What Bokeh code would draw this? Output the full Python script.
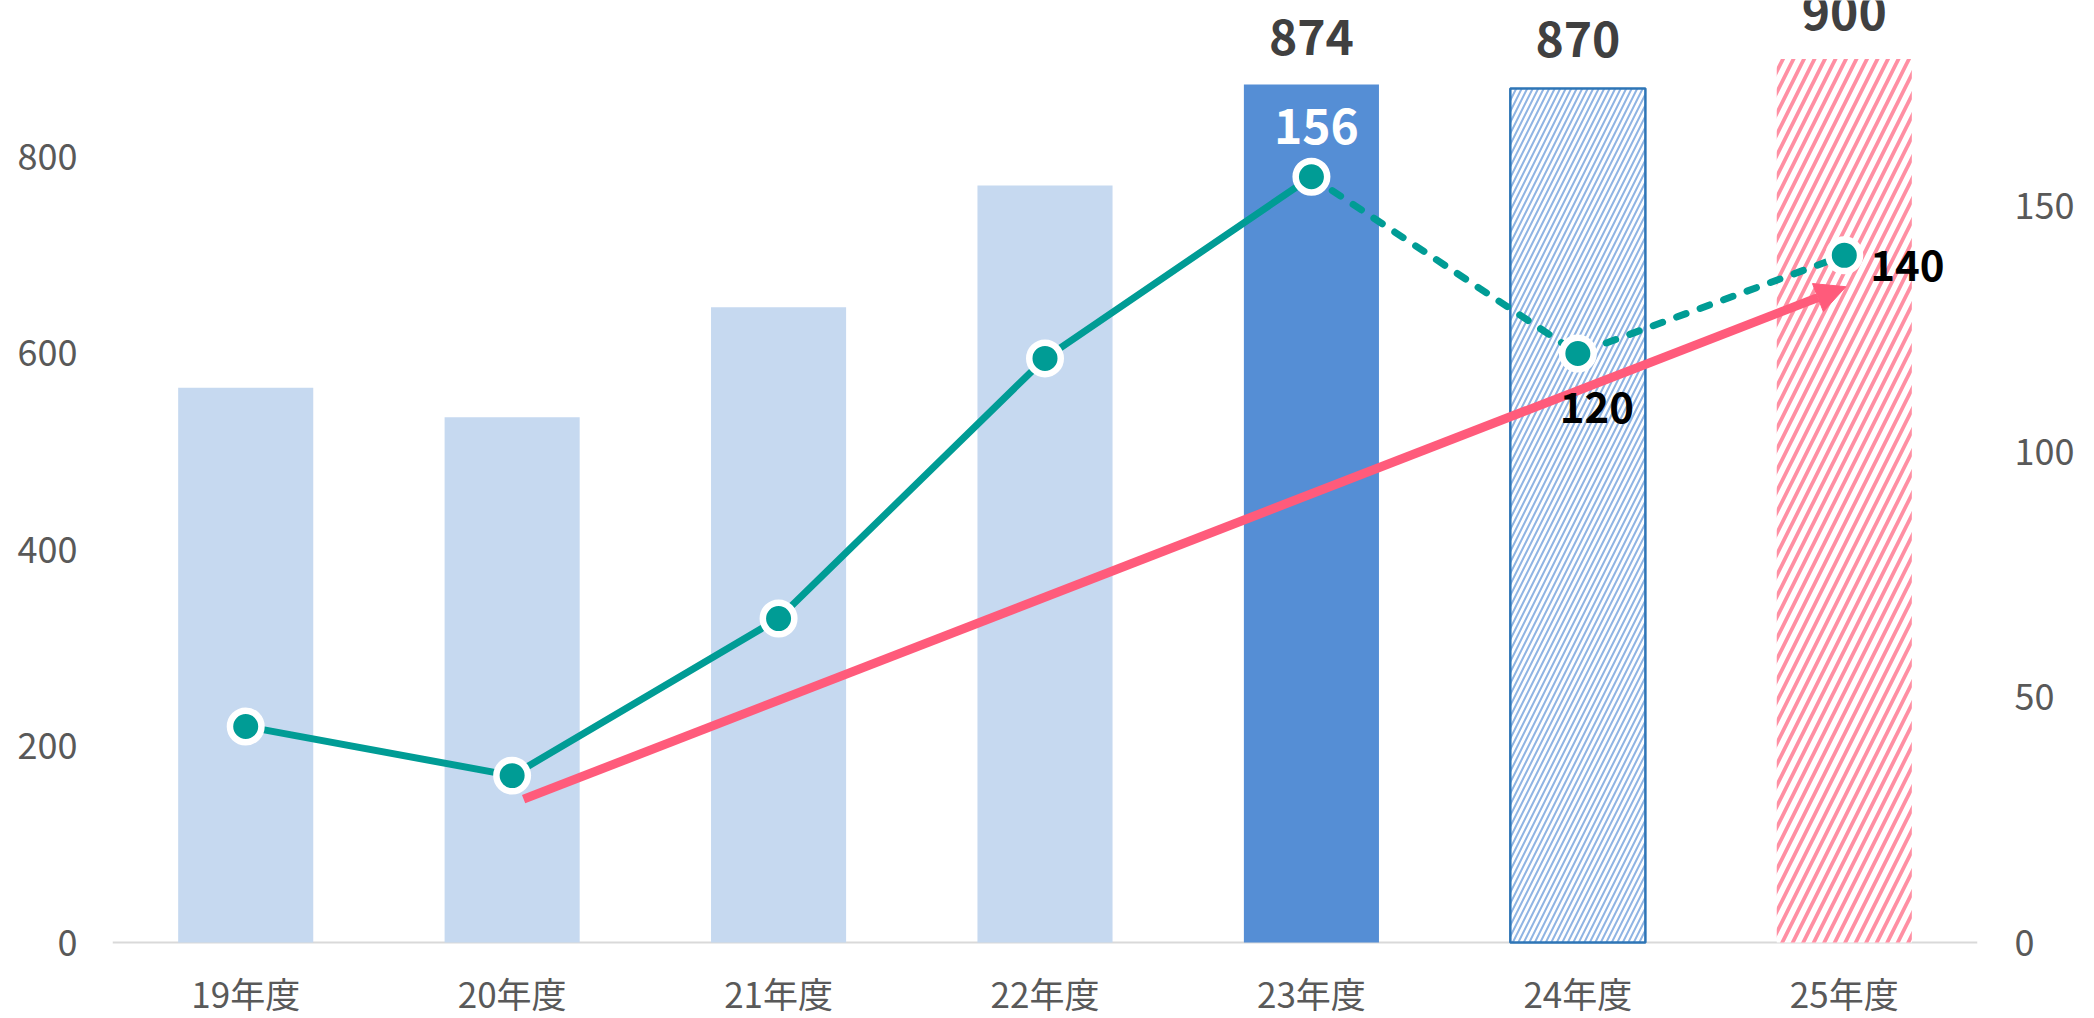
from bokeh.plotting import figure
from bokeh.models import (ColumnDataSource, Range1d, LinearAxis, FixedTicker,
                          Arrow, NormalHead, LabelSet, Span)
from bokeh.core.properties import value
from bokeh.embed import file_html
from bokeh.resources import INLINE

# ---------------- data ----------------
categories = ["19年度", "20年度", "21年度", "22年度", "23年度", "24年度", "25年度"]
bar_values = [565, 535, 647, 771, 874, 870, 900]          # left axis
line_values = [44, 34, 66, 119, 156, 120, 140]             # right axis
left_ticks = [0, 200, 400, 600, 800]
right_ticks = [0, 50, 100, 150]
actual_bars = [0, 1, 2, 3]        # past years
current_bar = [4]                 # latest actual
outlook_bar = [5]                 # outlook
target_bar = [6]                  # target
labeled_bars = [4, 5, 6]          # bars carrying a value label
labeled_points = [4, 5, 6]        # points carrying a value label
trend_start = (1.043, 29.2)       # red trend arrow (x index, right-axis value)
trend_end = (6.006, 133.6)

# ---------------- styles ----------------
FONT = "Noto Sans CJK JP"
TEAL = "#009c95"
PINK = "#ff5b7b"
GREY = "#595959"
BAR_W = 0.507

xs = list(range(len(categories)))
px_per_unit = 0.9817          # left-axis scale in screen pixels
left_top = 942 / px_per_unit
left_bottom = -(1018 - 942) / px_per_unit
ratio = 5.0

p = figure(width=2094, height=1018, output_backend="svg", toolbar_location=None,
           x_range=Range1d(-0.5, len(categories) - 0.5),
           y_range=Range1d(left_bottom, left_top),
           min_border=0, min_border_left=112, min_border_right=117,
           min_border_top=0, min_border_bottom=0,
           outline_line_color=None, background_fill_color="white",
           border_fill_color="white")
p.extra_y_ranges = {"right": Range1d(left_bottom / ratio, left_top / ratio)}
p.xgrid.visible = False
p.ygrid.visible = False
p.xaxis.visible = False

# category axis line
p.add_layout(Span(location=0, dimension="width", line_color="#d9d9d9",
                  line_width=2, level="underlay"))


def pick(idx, arr):
    return [arr[i] for i in idx]


p.vbar(x=pick(actual_bars, xs), top=pick(actual_bars, bar_values), width=BAR_W,
       fill_color="#c6d9f0", line_color=None)
p.vbar(x=pick(current_bar, xs), top=pick(current_bar, bar_values), width=BAR_W,
       fill_color="#558ed5", line_color=None)
p.vbar(x=pick(outlook_bar, xs), top=pick(outlook_bar, bar_values), width=BAR_W,
       fill_color="white", hatch_pattern="/", hatch_color="#8fb4e3",
       hatch_scale=11, hatch_weight=2, line_color="#2e75b6", line_width=2.5)
p.vbar(x=pick(target_bar, xs), top=pick(target_bar, bar_values), width=BAR_W,
       fill_color="white", hatch_pattern="/", hatch_color="#ff8fa3",
       hatch_scale=21, hatch_weight=3.8, line_color=None)

# category labels
p.text(x=xs, y=[0] * len(xs), text=categories, y_offset=50,
       text_align="center", text_baseline="middle", text_font=value(FONT),
       text_font_size="35px", text_color=GREY)

# line: solid for actuals, dashed for forecasts
p.line(xs[:5], line_values[:5], y_range_name="right", line_color=TEAL,
       line_width=7, line_join="round")
p.line(xs[4:], line_values[4:], y_range_name="right", line_color=TEAL,
       line_width=7, line_dash="10 15", line_cap="round")

arrow = Arrow(end=NormalHead(size=30, fill_color=PINK, line_color=PINK, line_width=1),
              x_start=trend_start[0], y_start=trend_start[1],
              x_end=trend_end[0], y_end=trend_end[1], y_range_name="right",
              line_color=PINK, line_width=9)
p.add_layout(arrow)

p.scatter(xs, line_values, y_range_name="right", size=31.5, fill_color=TEAL,
          line_color="white", line_width=6.5)

# value axes
yaxis = p.yaxis[0]
yaxis.ticker = FixedTicker(ticks=left_ticks)
yaxis.axis_line_color = None
yaxis.major_tick_line_color = None
yaxis.minor_tick_line_color = None
yaxis.major_tick_in = 0
yaxis.major_tick_out = 0
yaxis.major_label_standoff = 35
yaxis.major_label_text_font = FONT
yaxis.major_label_text_font_size = "36px"
yaxis.major_label_text_color = GREY

raxis = LinearAxis(y_range_name="right", ticker=FixedTicker(ticks=right_ticks),
                   axis_line_color=None, major_tick_line_color=None,
                   minor_tick_line_color=None, major_tick_in=0, major_tick_out=0,
                   major_label_standoff=37,
                   major_label_text_font=FONT, major_label_text_font_size="36px",
                   major_label_text_color=GREY)
p.add_layout(raxis, "right")

# value labels
bl_src = ColumnDataSource(dict(
    x=pick(labeled_bars, xs), y=pick(labeled_bars, bar_values),
    t=[str(v) for v in pick(labeled_bars, bar_values)], off=[48, 49, 47]))
p.add_layout(LabelSet(x="x", y="y", text="t", source=bl_src, y_offset="off",
                      text_align="center", text_baseline="middle",
                      text_font=value(FONT), text_font_style="bold",
                      text_font_size=value("48px"), text_color=value("#404040")))

pt_src = ColumnDataSource(dict(
    x=pick(labeled_points, xs), y=pick(labeled_points, line_values),
    t=[str(v) for v in pick(labeled_points, line_values)],
    xo=[5, 19, 26], yo=[51, -54, -10],
    col=["#ffffff", "#000000", "#000000"], al=["center", "center", "left"],
    fs=["48px", "42px", "42px"]))
p.add_layout(LabelSet(x="x", y="y", text="t", source=pt_src, y_range_name="right",
                      x_offset="xo", y_offset="yo", text_align="al",
                      text_baseline="middle", text_font=value(FONT),
                      text_font_style="bold", text_font_size="fs",
                      text_color="col"))

open("out.html", "w").write(file_html(p, INLINE))
